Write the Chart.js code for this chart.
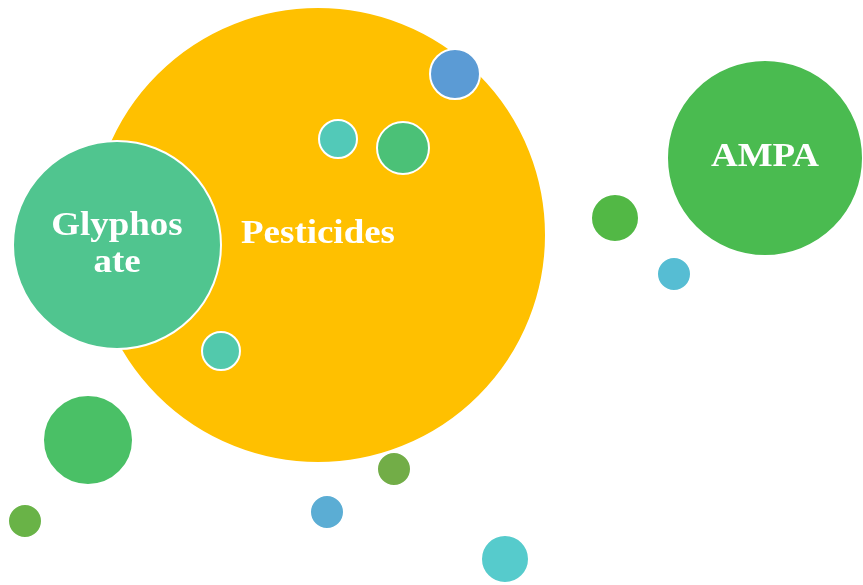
<!DOCTYPE html>
<html>
<head>
<meta charset="utf-8">
<script src="https://cdn.jsdelivr.net/npm/chart.js@4"></script>
<style>
  html, body { margin: 0; padding: 0; background: #ffffff; }
  canvas { display: block; }
</style>
</head>
<body>
<canvas id="bubbleChart" width="863" height="585"></canvas>
<script>
// bubble data (x, y on a 863 x 585 grid, r in px)
var labels  = ['Pesticides', 'Glyphos\nate', 'AMPA', '', '', '', '', '', '', '', '', '', '', ''];
var xValues = [318, 117, 765, 455, 338, 403, 221, 615, 674, 88, 394, 327, 25, 505];
var yValues = [235, 245, 158, 74, 139, 148, 351, 218, 274, 440, 469, 512, 521, 559];
var sizes   = [228, 104, 98, 25, 19, 26, 19, 24, 17, 45, 17, 17, 17, 24];

var colors = ['#FFC000', '#50C58F', '#4ABB50', '#5B9BD5', '#52C9B8', '#4BC177', '#52C9AC',
              '#52B845', '#56BDD3', '#4AC066', '#72AD47', '#5BADD4', '#69B347', '#56CBCC'];

var points = xValues.map(function (x, i) {
    return { x: x, y: yValues[i], r: sizes[i] };
});

// write the labels in the middle of their bubbles
var bubbleLabels = {
    id: 'bubbleLabels',
    afterDatasetsDraw: function (chart) {
        var ctx = chart.ctx;
        var meta = chart.getDatasetMeta(0);
        var lineH = 37;
        meta.data.forEach(function (el, i) {
            if (!labels[i]) return;
            var lines = labels[i].split('\n');
            var startY = el.y + 8 - (lines.length - 1) * lineH / 2;
            ctx.save();
            ctx.translate(el.x, 0);
            ctx.scale(1.12, 1);   // the original face is wider than Liberation Serif
            ctx.fillStyle = '#ffffff';
            ctx.font = 'bold 33px "Liberation Serif", "DejaVu Serif", serif';
            ctx.textAlign = 'center';
            ctx.textBaseline = 'alphabetic';
            lines.forEach(function (line, j) {
                ctx.fillText(line, 0, startY + j * lineH);
            });
            ctx.restore();
        });
    }
};

var ctx = document.getElementById('bubbleChart').getContext('2d');
var chart = new Chart(ctx, {
    type: 'bubble',
    data: {
        labels: labels,
        datasets: [{
            data: points,
            backgroundColor: colors,
            borderColor: '#ffffff',
            borderWidth: 2,
            hoverRadius: 0,
            clip: false
        }]
    },
    options: {
        responsive: false,
        animation: false,
        layout: { padding: 0, autoPadding: false },
        plugins: {
            legend: { display: false },
            tooltip: { enabled: false }
        },
        scales: {
            x: { type: 'linear', min: 0, max: 863, display: false },
            y: { type: 'linear', min: 0, max: 585, reverse: true, display: false }
        }
    },
    plugins: [bubbleLabels]
});
</script>
</body>
</html>
